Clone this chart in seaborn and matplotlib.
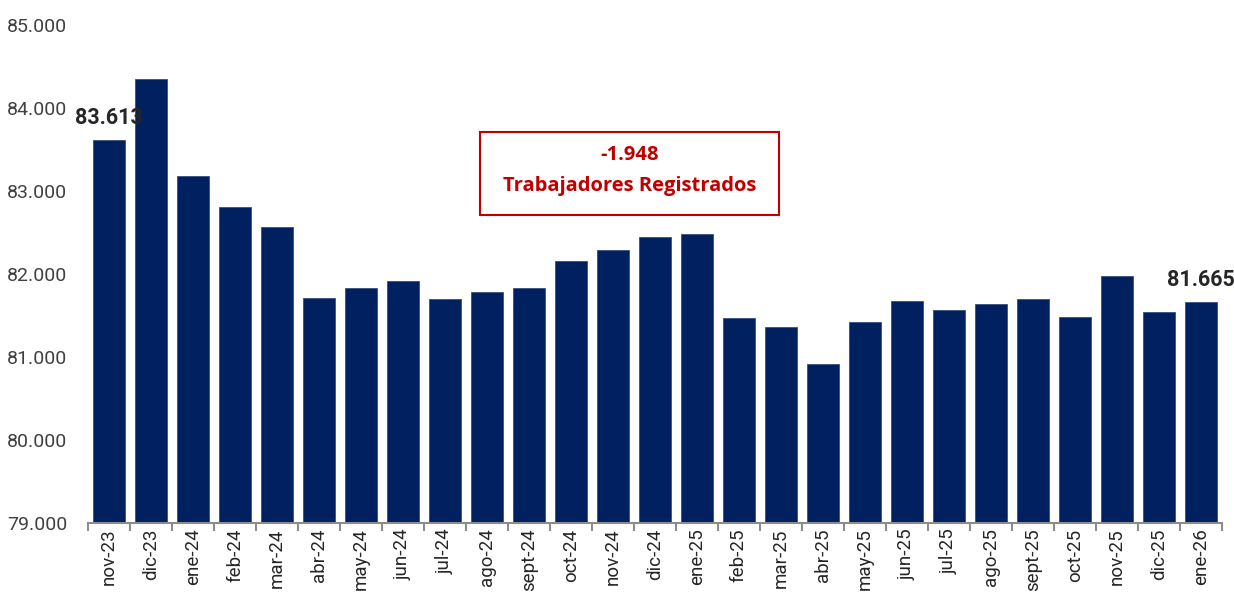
import matplotlib
matplotlib.use("Agg")
import matplotlib.pyplot as plt
import seaborn as sns
import pandas as pd
from matplotlib.patches import Rectangle
from matplotlib.ticker import FuncFormatter

months = ["nov-23", "dic-23", "ene-24", "feb-24", "mar-24", "abr-24", "may-24", "jun-24",
          "jul-24", "ago-24", "sept-24", "oct-24", "nov-24", "dic-24", "ene-25", "feb-25",
          "mar-25", "abr-25", "may-25", "jun-25", "jul-25", "ago-25", "sept-25", "oct-25",
          "nov-25", "dic-25", "ene-26"]
workers = [83613, 84353, 83180, 82808, 82569, 81707, 81826, 81910, 81695, 81778, 81826,
           82162, 82293, 82449, 82485, 81467, 81359, 80916, 81419, 81671, 81563, 81635,
           81695, 81479, 81982, 81539, 81665]
box_lines = ["-1.948", "Trabajadores Registrados"]

sns.set_theme(style="white")
plt.rcParams["font.family"] = ["Roboto", "DejaVu Sans"]

df = pd.DataFrame({"mes": months, "trab": workers})

fig = plt.figure(figsize=(12.34, 5.97), dpi=100)
ax = fig.add_axes([0.0713, 0.124, 0.9187, 0.834])

sns.barplot(data=df, x="mes", y="trab", color="#002060", saturation=1, width=0.76,
            edgecolor="#3a4f80", linewidth=0.6, ax=ax)

ax.set_ylim(79000, 85000)
ax.set_xlim(-0.5, len(months) - 0.5)
ax.set_yticks(range(79000, 85001, 1000))
ax.yaxis.set_major_formatter(FuncFormatter(lambda v, p: f"{int(v):,}".replace(",", ".")))
ax.set_xlabel("")
ax.set_ylabel("")

for s in ["top", "right", "left"]:
    ax.spines[s].set_visible(False)
ax.spines["bottom"].set_color("#8c8c8c")
ax.spines["bottom"].set_linewidth(1.5)

ax.set_xticks([i - 0.5 for i in range(len(months) + 1)], minor=True)
ax.tick_params(axis="x", which="minor", bottom=True, length=6, width=1.5, color="#8c8c8c")
ax.tick_params(axis="x", which="major", bottom=False, length=0, pad=4)
ax.set_xticks(range(len(months)))
ax.set_xticklabels(months, rotation=90, fontsize=13.5, color="#262626")
ax.tick_params(axis="y", left=False, labelsize=14, labelcolor="#404040", pad=9)

for i in [0, len(months) - 1]:
    ax.text(i, workers[i] + 130, f"{workers[i]:,}".replace(",", "."), ha="center", va="bottom",
            fontsize=15.5, fontweight="bold", color="#262626")

rect = Rectangle((0.3457, 0.618), 0.2635, 0.167, transform=ax.transAxes, fill=False,
                 edgecolor="#C00000", linewidth=1.5)
ax.add_patch(rect)
ax.text(0.4775, 0.739, box_lines[0], transform=ax.transAxes, ha="center", va="center",
        fontsize=14.5, fontweight="bold", color="#C00000", family=["Open Sans", "DejaVu Sans"])
ax.text(0.4775, 0.677, box_lines[1], transform=ax.transAxes, ha="center", va="center",
        fontsize=14.5, fontweight="bold", color="#C00000", family=["Open Sans", "DejaVu Sans"])

fig.savefig("out.png", dpi=100)
